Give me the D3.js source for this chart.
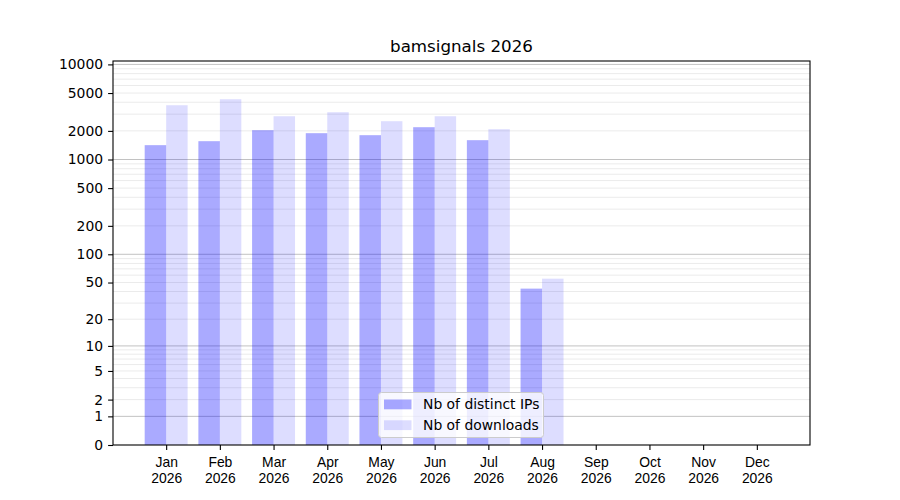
<!DOCTYPE html>
<html>
<head>
<meta charset="utf-8">
<script src="https://cdn.jsdelivr.net/npm/d3@7"></script>
<style>
  body { margin: 0; background: #fff; }
  svg { font-family: "DejaVu Sans", sans-serif; }
</style>
</head>
<body>
<div id="chart"></div>
<script>
const title = 'bamsignals 2026';
const months = ['Jan', 'Feb', 'Mar', 'Apr', 'May', 'Jun', 'Jul', 'Aug', 'Sep', 'Oct', 'Nov', 'Dec'];
const year = '2026';
const distinctIPs = [1416, 1559, 2034, 1892, 1803, 2187, 1597, 43, 0, 0, 0, 0];
const downloads = [3723, 4303, 2853, 3143, 2529, 2853, 2084, 55, 0, 0, 0, 0];
const yTicks = [0, 1, 2, 5, 10, 20, 50, 100, 200, 500, 1000, 2000, 5000, 10000];
const seriesNames = ['Nb of distinct IPs', 'Nb of downloads'];

const width = 900;
const height = 500;
const margin = { top: 61, right: 90, bottom: 55, left: 113 };
const chartWidth = width - margin.left - margin.right;
const chartHeight = height - margin.top - margin.bottom;

const svg = d3.select('#chart').append('svg')
  .attr('width', width)
  .attr('height', height);

const g = svg.append('g').attr('transform', `translate(${margin.left},${margin.top})`);

// bars sit at i-0.4..i and i..i+0.4, matplotlib-like 5% padding
const xScale = d3.scaleLinear().domain([-0.99, 11.99]).range([0, chartWidth]);
// log(1+x) axis
const yScale = d3.scaleSymlog().constant(1).domain([0, 10857]).range([chartHeight, 0]);

// grid lines: majors on decades, minors on 2..9 multiples
const majors = [1, 10, 100, 1000, 10000];
const minors = [];
[1, 10, 100, 1000].forEach(dec => {
  for (let m = 2; m <= 9; m++) minors.push(dec * m);
});

g.append('g').selectAll('line')
  .data(minors)
  .join('line')
    .attr('x1', 0).attr('x2', chartWidth)
    .attr('y1', d => yScale(d)).attr('y2', d => yScale(d))
    .attr('stroke', '#ebebeb')
    .attr('stroke-width', 1);

g.append('g').selectAll('line')
  .data(majors)
  .join('line')
    .attr('x1', 0).attr('x2', chartWidth)
    .attr('y1', d => yScale(d)).attr('y2', d => yScale(d))
    .attr('stroke', '#c2c2c2')
    .attr('stroke-width', 1);

// bars
const barW = xScale(0.4) - xScale(0);
g.append('g').selectAll('rect')
  .data(distinctIPs)
  .join('rect')
    .attr('x', (d, i) => xScale(i - 0.4))
    .attr('y', d => yScale(d))
    .attr('width', barW)
    .attr('height', d => yScale(0) - yScale(d))
    .attr('fill', 'blue')
    .attr('fill-opacity', 0.333);

g.append('g').selectAll('rect')
  .data(downloads)
  .join('rect')
    .attr('x', (d, i) => xScale(i))
    .attr('y', d => yScale(d))
    .attr('width', barW)
    .attr('height', d => yScale(0) - yScale(d))
    .attr('fill', 'blue')
    .attr('fill-opacity', 0.135);

// x-axis
const xAxis = g.append('g')
  .attr('transform', `translate(0,${chartHeight})`)
  .call(d3.axisBottom(xScale).tickValues(d3.range(months.length)).tickSize(4.9).tickFormat(''));
xAxis.select('.domain').remove();
xAxis.selectAll('.tick line').attr('stroke', '#000').attr('stroke-width', 1.1);
xAxis.selectAll('.tick').each(function (d) {
  const t = d3.select(this).append('text')
    .attr('fill', '#000')
    .attr('font-size', '13.9px')
    .attr('text-anchor', 'middle');
  t.append('tspan').attr('x', 0).attr('y', 22).text(months[d]);
  t.append('tspan').attr('x', 0).attr('y', 38).text(year);
});

// y-axis
const yAxis = g.append('g')
  .call(d3.axisLeft(yScale).tickValues(yTicks).tickSize(4.9).tickPadding(5).tickFormat(d3.format('d')));
yAxis.select('.domain').remove();
yAxis.selectAll('.tick line').attr('stroke', '#000').attr('stroke-width', 1.1);
yAxis.selectAll('.tick text')
  .attr('fill', '#000')
  .attr('font-size', '13.9px')
  .attr('font-family', '"DejaVu Sans", sans-serif');

// frame
g.append('rect')
  .attr('width', chartWidth)
  .attr('height', chartHeight)
  .attr('fill', 'none')
  .attr('stroke', '#000')
  .attr('stroke-width', 1.1);

// title
svg.append('text')
  .attr('x', margin.left + chartWidth / 2)
  .attr('y', margin.top - 9)
  .attr('text-anchor', 'middle')
  .attr('font-size', '16.7px')
  .attr('fill', '#000')
  .text(title);

// legend, lower center
const legend = svg.append('g').attr('transform', 'translate(378.5,392.5)');
legend.append('rect')
  .attr('width', 165)
  .attr('height', 45)
  .attr('rx', 3)
  .attr('fill', '#fff')
  .attr('fill-opacity', 0.8)
  .attr('stroke', '#cccccc')
  .attr('stroke-width', 1);

const legendOpacity = [0.333, 0.135];
seriesNames.forEach((name, i) => {
  legend.append('rect')
    .attr('x', 5.5)
    .attr('y', 7 + i * 20.8)
    .attr('width', 27.5)
    .attr('height', 9.8)
    .attr('fill', 'blue')
    .attr('fill-opacity', legendOpacity[i]);
  legend.append('text')
    .attr('x', 44.5)
    .attr('y', 16.8 + i * 20.8)
    .attr('font-size', '13.9px')
    .attr('fill', '#000')
    .text(name);
});
</script>
</body>
</html>
